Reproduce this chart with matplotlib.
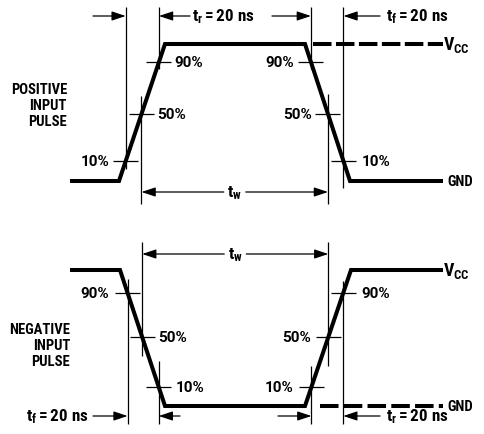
import matplotlib
matplotlib.use("Agg")
import matplotlib.pyplot as plt

FN = 'Roboto Condensed'
FP = 'Roboto'
plt.rcParams['mathtext.fontset'] = 'custom'
plt.rcParams['mathtext.rm'] = FN + ':bold'
plt.rcParams['mathtext.it'] = FN + ':bold'
plt.rcParams['mathtext.bf'] = FN + ':bold'

# ---------------- data ----------------
# waveform corner times (diagram x units) and logic levels (0 = GND, 1 = VCC)
pos_t = [70, 119, 165, 305, 350, 443]
pos_level = [0, 0, 1, 1, 0, 0]
neg_t = [70, 120, 165, 305, 351, 443]
neg_level = [1, 1, 0, 0, 1, 1]
pct_labels = ["10%", "50%", "90%"]
pct_values = [0.10, 0.50, 0.90]
side_labels = ["POSITIVE\nINPUT\nPULSE", "NEGATIVE\nINPUT\nPULSE"]
time_labels = [r"$\mathrm{t_r = 20\ ns}$", r"$\mathrm{t_f = 20\ ns}$"]
width_label = r"$\mathrm{t_w}$"
vcc_label = r"$\mathrm{V_{CC}}$"
gnd_label = "GND"

# ---------------- layout ----------------
W, H = 484, 435
fig = plt.figure(figsize=(W / 100, H / 100), dpi=100)
ax = fig.add_axes([0, 0, 1, 1])
ax.set_xlim(0, W)
ax.set_ylim(H, 0)
ax.axis('off')

# pixel rows of each panel: (GND y, VCC y)
top_gnd, top_vcc = 182, 45
bot_gnd, bot_vcc = 407, 271
# visual placement of percentage ticks (pixel rows)
top_tick_y = {0.10: 162, 0.50: 115, 0.90: 63}
bot_tick_y = {0.10: 388, 0.50: 338, 0.90: 294}

WAVE_LW = 2.9
THIN = 0.9
MS = 12.3   # size of math labels


def lev2y(level, gnd, vcc):
    return gnd + (vcc - gnd) * level


def edge_x(t0, y0, t1, y1, y):
    return t0 + (y - y0) / (y1 - y0) * (t1 - t0)


def arrow(x_tail, x_tip, y):
    ax.annotate('', xy=(x_tip, y), xytext=(x_tail, y),
                arrowprops=dict(arrowstyle='-|>,head_length=0.6,head_width=0.2',
                                mutation_scale=14, lw=THIN, color='black',
                                shrinkA=0, shrinkB=0))


def vline(x, y0, y1):
    ax.plot([x, x], [y0, y1], color='black', lw=THIN, solid_capstyle='butt')


def hline(x0, x1, y):
    ax.plot([x0, x1], [y, y], color='black', lw=THIN, solid_capstyle='butt')


def txt(x, y, s, ha='left', size=10.3, family=FN):
    ax.text(x, y, s, ha=ha, va='center', fontsize=size, fontweight='bold',
            family=family, color='black')


# ---------------- waveforms ----------------
py = [lev2y(l, top_gnd, top_vcc) for l in pos_level]
ny = [lev2y(l, bot_gnd, bot_vcc) for l in neg_level]
ax.plot(pos_t, py, color='black', lw=WAVE_LW, solid_joinstyle='miter', solid_capstyle='butt')
ax.plot(neg_t, ny, color='black', lw=WAVE_LW, solid_joinstyle='miter', solid_capstyle='butt')
# dashed reference levels
ax.plot([313, pos_t[-1]], [top_vcc, top_vcc], color='black', lw=WAVE_LW,
        dashes=(4.6, 1.1), dash_capstyle='butt')
ax.plot([320, neg_t[-1]], [bot_gnd, bot_gnd], color='black', lw=WAVE_LW,
        dashes=(4.6, 1.3), dash_capstyle='butt')


def crossings(t, y, i, ticks):
    return {p: edge_x(t[i], y[i], t[i + 1], y[i + 1], ticks[p]) for p in ticks}


top_rise = crossings(pos_t, py, 1, top_tick_y)
top_fall = crossings(pos_t, py, 3, top_tick_y)
bot_fall = crossings(neg_t, ny, 1, bot_tick_y)
bot_rise = crossings(neg_t, ny, 3, bot_tick_y)

# ---------------- ticks and percentage labels ----------------
HW = 12.5
PS = 11
for p, lab in zip(pct_values, pct_labels):
    x, y = top_rise[p], top_tick_y[p]
    hline(x - HW, x + HW, y)
    if p == 0.10:
        txt(x - HW - 4, y, lab, ha='right', size=PS, family=FP)
    else:
        txt(x + HW + 3, y, lab, ha='left', size=PS, family=FP)
    x, y = top_fall[p], top_tick_y[p]
    hline(x - HW, x + HW, y)
    if p == 0.10:
        txt(x + HW + 6, y, lab, ha='left', size=PS, family=FP)
    else:
        txt(x - HW - 4, y, lab, ha='right', size=PS, family=FP)
    x, y = bot_fall[p], bot_tick_y[p]
    hline(x - HW, x + HW, y)
    if p == 0.90:
        txt(x - HW - 6, y, lab, ha='right', size=PS, family=FP)
    else:
        txt(x + HW + 4, y, lab, ha='left', size=PS, family=FP)
    x, y = bot_rise[p], bot_tick_y[p]
    hline(x - HW, x + HW, y)
    if p == 0.90:
        txt(x + HW + 6, y, lab, ha='left', size=PS, family=FP)
    else:
        txt(x - HW - 5, y, lab, ha='right', size=PS, family=FP)

# ---------------- vertical reference lines ----------------
vline(top_rise[0.10], 8, 170)
vline(top_rise[0.90], 8, 70)
vline(top_rise[0.50], 97, 205)
vline(top_fall[0.90], 8, 70)
vline(top_fall[0.50], 95, 205)
vline(top_fall[0.10], 8, 189)

vline(bot_fall[0.90], 280, 425)
vline(bot_fall[0.50], 243, 357)
vline(bot_fall[0.10], 362, 425)
vline(bot_rise[0.10], 367, 425)
vline(bot_rise[0.50], 243, 367)
vline(bot_rise[0.90], 282, 425)

# ---------------- timing arrows ----------------
ya = 17
arrow(93, top_rise[0.10], ya)
arrow(190, top_rise[0.90], ya)
txt(192, ya, time_labels[0], ha='left', size=MS)
arrow(272, top_fall[0.90], ya)
arrow(380, top_fall[0.10], ya)
txt(386, ya, time_labels[1], ha='left', size=MS)

yb = 417
txt(89, yb, time_labels[1], ha='right', size=MS)
arrow(93, bot_fall[0.90], yb)
arrow(180, bot_fall[0.10], yb)
arrow(278, bot_rise[0.10], yb)
arrow(380, bot_rise[0.90], yb)
txt(386, yb, time_labels[0], ha='left', size=MS)

# pulse width
for yw, (xl, xr) in [(193, (top_rise[0.50], top_fall[0.50])),
                     (255, (bot_fall[0.50], bot_rise[0.50]))]:
    xm = (xl + xr) / 2
    arrow(xm - 11, xl, yw)
    arrow(xm + 11, xr, yw)
    txt(xm, yw, width_label, ha='center', size=MS)

# ---------------- level labels ----------------
txt(443, top_vcc, vcc_label, ha='left', size=13)
txt(447, top_gnd, gnd_label, ha='left', size=10.5)
txt(443, bot_vcc, vcc_label, ha='left', size=13)
txt(447, bot_gnd, gnd_label, ha='left', size=10.5)

# ---------------- side labels ----------------
ax.text(67, 106, side_labels[0], ha='right', va='center', fontsize=10.5,
        fontweight='bold', family=FN, linespacing=1.15)
ax.text(70, 346, side_labels[1], ha='right', va='center', fontsize=10.5,
        fontweight='bold', family=FN, linespacing=1.2)

fig.savefig('out.png', dpi=100)
